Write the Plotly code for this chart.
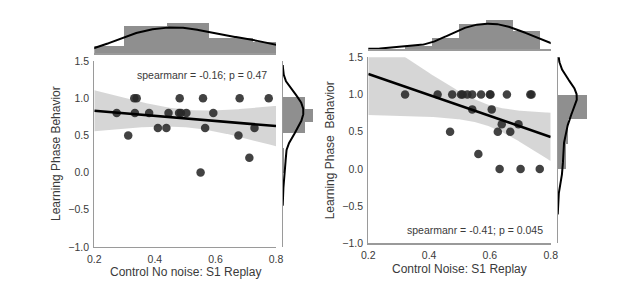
import numpy as np
import plotly.graph_objects as go

W, H = 617, 287

# ---------------- data ----------------
# Left panel: Control No noise
left_x = [0.332, 0.340, 0.482, 0.559, 0.680, 0.776,
          0.274, 0.334, 0.381, 0.445, 0.480, 0.486, 0.504, 0.593,
          0.410, 0.438, 0.566, 0.729,
          0.312, 0.676,
          0.712,
          0.551]
left_y = [1.0, 1.0, 1.0, 1.0, 1.0, 1.0,
          0.8, 0.8, 0.8, 0.8, 0.8, 0.8, 0.8, 0.8,
          0.6, 0.6, 0.6, 0.6,
          0.5, 0.5,
          0.2,
          0.0]
# Right panel: Control Noise
right_x = [0.321, 0.428, 0.476, 0.505, 0.510, 0.526, 0.542, 0.571, 0.600, 0.602, 0.656, 0.733, 0.737,
           0.542, 0.606,
           0.639, 0.694,
           0.469, 0.626, 0.667,
           0.562,
           0.632, 0.701, 0.764]
right_y = [1.0, 1.0, 1.0, 1.0, 1.0, 1.0, 1.0, 1.0, 1.0, 1.0, 1.0, 1.0, 1.0,
           0.8, 0.8,
           0.6, 0.6,
           0.5, 0.5, 0.5,
           0.2,
           0.0, 0.0, 0.0]

# marginal histograms (bin edges and density heights as read)
left_top_edges = [0.2, 0.299, 0.439, 0.579, 0.724, 0.8]
left_top_heights = [0.63, 2.37, 2.6, 1.35, 1.0]
left_side_edges = [0.0, 0.167, 0.333, 0.528, 0.685, 0.85, 1.02]
left_side_heights = [0.12, 0.12, 0.0, 1.64, 2.18, 1.64]
right_top_edges = [0.321, 0.410, 0.498, 0.587, 0.675, 0.764]
right_top_heights = [0.47, 1.41, 3.29, 3.76, 2.35]
right_side_edges = [0.0, 0.333, 0.667, 1.0]
right_side_heights = [0.5, 0.625, 1.875]

left_text = "spearmanr = -0.16; p = 0.47"
right_text = "spearmanr = -0.41; p = 0.045"
left_xtitle = "Control No noise: S1 Replay"
right_xtitle = "Control Noise: S1 Replay"
left_ytitle = "Learning Phase Behavior"
right_ytitle = "Learning Phase  Behavior"

x_ticks = [0.2, 0.4, 0.6, 0.8]
y_ticks = [-1.0, -0.5, 0.0, 0.5, 1.0, 1.5]

# ---------------- styling ----------------
FONT = "Liberation Sans, Arial, sans-serif"
TXT = "#3a3a3a"
SPINE = "#9a9a9a"
PT = "rgba(40,40,40,0.88)"
BAND = "rgba(200,200,200,0.75)"
BAR = "#8f8f8f"


def px_x(p):
    return p / W


def px_y(p):
    return 1 - p / H


def kde(vals, grid):
    v = np.asarray(vals)
    q75, q25 = np.percentile(v, [75, 25])
    a = min(v.std(ddof=1), (q75 - q25) / 1.349)
    bw = 1.059 * a * len(v) ** (-0.2)
    d = (grid[:, None] - v[None, :]) / bw
    return np.exp(-0.5 * d ** 2).sum(axis=1) / (len(v) * bw * np.sqrt(2 * np.pi)), bw


def reg_band(xs, ys, grid, t=2.08):
    x = np.asarray(xs)
    y = np.asarray(ys)
    n = len(x)
    b, a = np.polyfit(x, y, 1)
    yhat = a + b * grid
    resid = y - (a + b * x)
    s = np.sqrt((resid ** 2).sum() / (n - 2))
    sxx = ((x - x.mean()) ** 2).sum()
    se = s * np.sqrt(1 / n + (grid - x.mean()) ** 2 / sxx)
    return yhat, yhat - t * se, yhat + t * se


fig = go.Figure()

panels = [
    dict(x=left_x, y=left_y, ax=("x", "y"), top=("x2", "y2"), side=("x3", "y3"),
         te=left_top_edges, th=left_top_heights, se=left_side_edges, sh=left_side_heights),
    dict(x=right_x, y=right_y, ax=("x4", "y4"), top=("x5", "y5"), side=("x6", "y6"),
         te=right_top_edges, th=right_top_heights, se=right_side_edges, sh=right_side_heights),
]

grid = np.linspace(0.2, 0.8, 200)
for p in panels:
    xa, ya = p["ax"]
    yhat, lo, hi = reg_band(p["x"], p["y"], grid)
    fig.add_trace(go.Scatter(x=grid, y=lo, mode="lines", line=dict(width=0, color=BAND),
                             xaxis=xa, yaxis=ya, hoverinfo="skip"))
    fig.add_trace(go.Scatter(x=grid, y=hi, mode="lines", line=dict(width=0, color=BAND),
                             fill="tonexty", fillcolor=BAND, xaxis=xa, yaxis=ya, hoverinfo="skip"))
    fig.add_trace(go.Scatter(x=p["x"], y=p["y"], mode="markers",
                             marker=dict(size=8.5, color=PT, line=dict(width=0)),
                             xaxis=xa, yaxis=ya, cliponaxis=False))
    fig.add_trace(go.Scatter(x=grid, y=yhat, mode="lines", line=dict(color="black", width=2.6),
                             xaxis=xa, yaxis=ya))

    # top marginal
    txa, tya = p["top"]
    e = np.asarray(p["te"])
    fig.add_trace(go.Bar(x=(e[:-1] + e[1:]) / 2, y=p["th"], width=np.diff(e),
                         marker=dict(color=BAR, line=dict(width=0)), xaxis=txa, yaxis=tya))
    xv = np.asarray(p["x"])
    _, bwx = kde(xv, grid)
    g2 = np.linspace(xv.min() - 3 * bwx, xv.max() + 3 * bwx, 300)
    d2, _ = kde(xv, g2)
    fig.add_trace(go.Scatter(x=g2, y=d2, mode="lines", line=dict(color="black", width=2),
                             xaxis=txa, yaxis=tya))

    # side marginal
    sxa, sya = p["side"]
    e = np.asarray(p["se"])
    fig.add_trace(go.Bar(y=(e[:-1] + e[1:]) / 2, x=p["sh"], width=np.diff(e), orientation="h",
                         marker=dict(color=BAR, line=dict(width=0)), xaxis=sxa, yaxis=sya))
    yv = np.asarray(p["y"])
    _, bwy = kde(yv, grid)
    g3 = np.linspace(yv.min() - 3 * bwy, yv.max() + 3 * bwy, 300)
    d3, _ = kde(yv, g3)
    fig.add_trace(go.Scatter(x=d3, y=g3, mode="lines", line=dict(color="black", width=2),
                             xaxis=sxa, yaxis=sya))

# ---------------- axes ----------------
tickfont = dict(family=FONT, size=10.5, color=TXT)
titlefont = dict(family=FONT, size=12, color=TXT)


def main_axes(xdom, ydom, anchor_x, anchor_y):
    xa = dict(domain=xdom, range=[0.2, 0.8], tickvals=x_ticks, tickformat=".1f",
              showgrid=False, zeroline=False, showline=True, linecolor=SPINE, linewidth=1.2,
              ticks="", tickfont=tickfont, anchor=anchor_y, fixedrange=True, automargin=False,
              ticklabelstandoff=2)
    ya = dict(domain=ydom, range=[-1.0, 1.5], tickvals=y_ticks, tickformat=".1f",
              showgrid=False, zeroline=False, showline=True, linecolor=SPINE, linewidth=1.2,
              ticks="", tickfont=tickfont, anchor=anchor_x, fixedrange=True, automargin=False,
              ticklabelstandoff=2)
    return xa, ya


L_main_x = [px_x(94.3), px_x(276.0)]
L_main_y = [px_y(247.0), px_y(61.0)]
R_main_x = [px_x(368.3), px_x(550.7)]
R_main_y = [px_y(243.3), px_y(57.3)]

xa1, ya1 = main_axes(L_main_x, L_main_y, "x", "y")
xa4, ya4 = main_axes(R_main_x, R_main_y, "x4", "y4")

hidden = dict(showgrid=False, zeroline=False, showticklabels=False, ticks="", fixedrange=True,
              automargin=False)

layout = dict(
    template="none",
    width=W, height=H, margin=dict(l=0, r=0, t=0, b=0, pad=0, autoexpand=False),
    paper_bgcolor="white", plot_bgcolor="rgba(0,0,0,0)",
    showlegend=False, bargap=0, hovermode=False,
    xaxis=xa1, yaxis=ya1, xaxis4=xa4, yaxis4=ya4,
    # left top marginal
    xaxis2=dict(domain=L_main_x, range=[0.2, 0.8], anchor="y2", showline=True, linecolor=SPINE,
                linewidth=1.2, **hidden),
    yaxis2=dict(domain=[px_y(53.3), px_y(20.0)], range=[0, 33.3 / 11.54], anchor="x2",
                showline=False, **hidden),
    # left side marginal
    xaxis3=dict(domain=[px_x(282.7), px_x(316.0)], range=[0, 33.3 / 13.75], anchor="y3",
                showline=False, **hidden),
    yaxis3=dict(domain=L_main_y, range=[-1.0, 1.5], anchor="x3", showline=True, linecolor=SPINE,
                linewidth=1.2, **hidden),
    # right top marginal
    xaxis5=dict(domain=R_main_x, range=[0.2, 0.8], anchor="y5", showline=True, linecolor=SPINE,
                linewidth=1.2, **hidden),
    yaxis5=dict(domain=[px_y(49.3), px_y(17.0)], range=[0, 32.3 / 7.8], anchor="x5",
                showline=False, **hidden),
    # right side marginal
    xaxis6=dict(domain=[px_x(557.7), px_x(590.0)], range=[0, 32.3 / 15.8], anchor="y6",
                showline=False, **hidden),
    yaxis6=dict(domain=R_main_y, range=[-1.0, 1.5], anchor="x6", showline=True, linecolor=SPINE,
                linewidth=1.2, **hidden),
)
fig.update_layout(**layout)

# ---------------- texts ----------------
C = dict(xanchor="center", yanchor="middle", showarrow=False)
ann = [
    dict(text=left_text, x=0.554, y=1.31, xref="x", yref="y",
         font=dict(family=FONT, size=10.5, color=TXT), **C),
    dict(text=right_text, x=0.55, y=-0.82, xref="x4", yref="y4",
         font=dict(family=FONT, size=10.5, color=TXT), **C),
    dict(text=left_xtitle, x=(L_main_x[0] + L_main_x[1]) / 2, y=px_y(271.5), xref="paper",
         yref="paper", font=titlefont, **C),
    dict(text=right_xtitle, x=(R_main_x[0] + R_main_x[1]) / 2, y=px_y(268.5), xref="paper",
         yref="paper", font=titlefont, **C),
    dict(text=left_ytitle, x=px_x(56.0), y=(L_main_y[0] + L_main_y[1]) / 2, xref="paper",
         yref="paper", textangle=-90, font=titlefont, **C),
    dict(text=right_ytitle.replace("  ", "&nbsp; "), x=px_x(330.0), y=(R_main_y[0] + R_main_y[1]) / 2,
         xref="paper", yref="paper", textangle=-90, font=titlefont, **C),
]
fig.update_layout(annotations=ann)

fig.write_html(
    "out.html",
    config={"displayModeBar": False, "staticPlot": True},
    post_script="document.body.style.margin='0';document.body.style.padding='0';"
                "document.body.style.overflow='hidden';"
                "document.documentElement.style.overflow='hidden';",
)
